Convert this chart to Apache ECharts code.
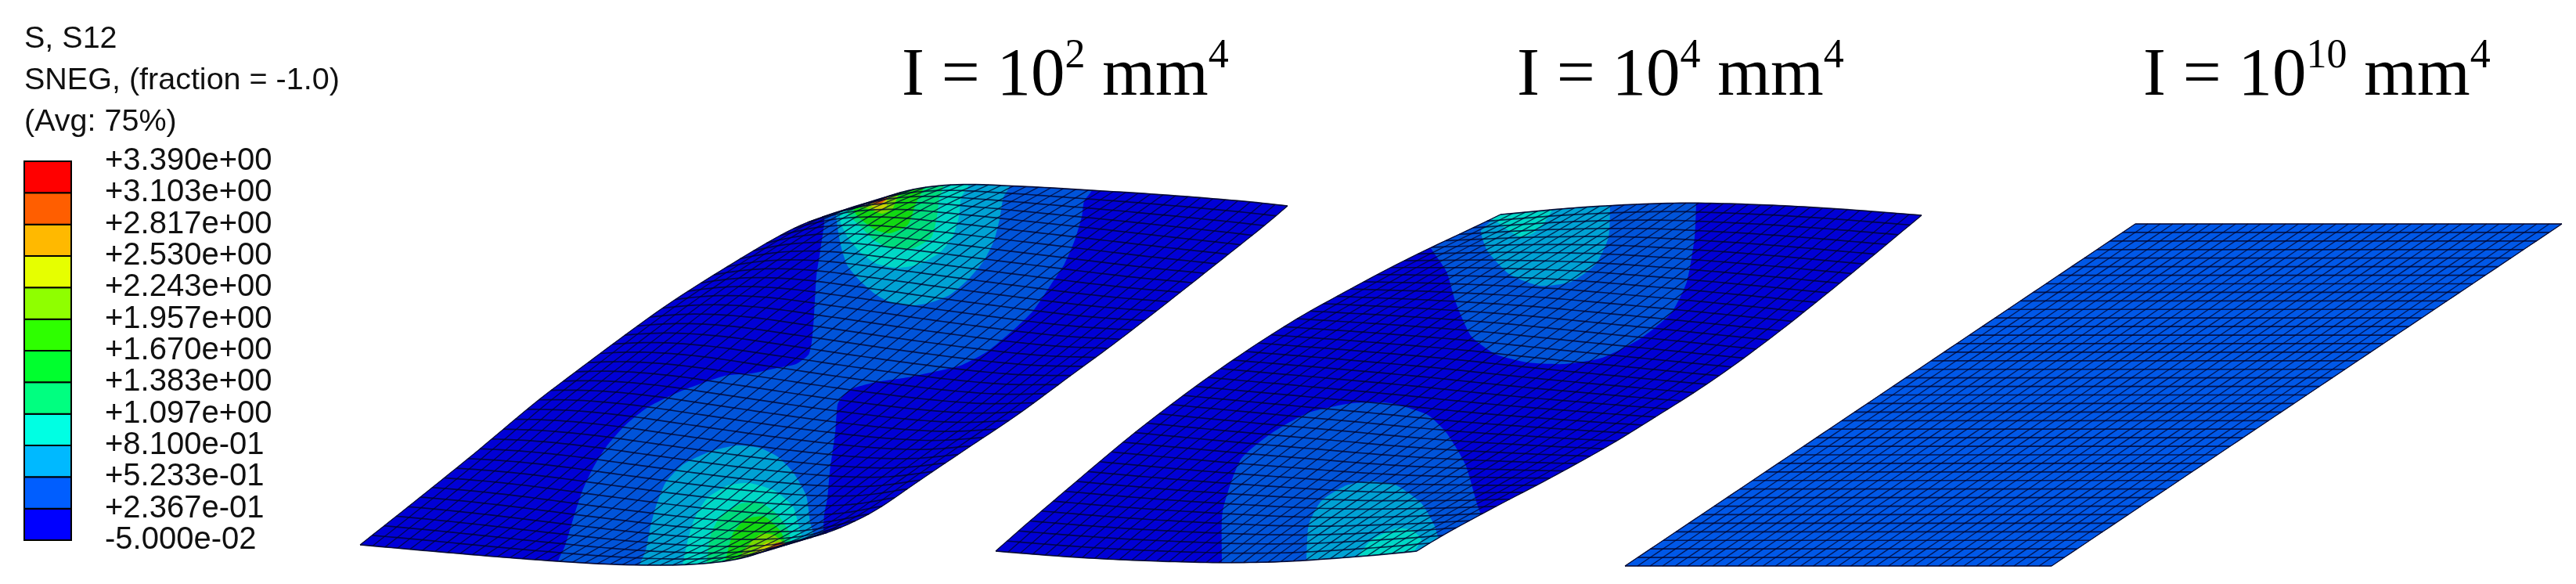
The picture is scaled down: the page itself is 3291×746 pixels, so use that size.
<!DOCTYPE html>
<html><head><meta charset="utf-8">
<style>html,body{margin:0;padding:0;background:#fff}#c{width:3291px;height:746px}</style>
<script src="https://cdn.jsdelivr.net/npm/echarts@6/dist/echarts.min.js"></script>
</head><body><div id="c"></div>
<script>
// Legend
const legendTicks = ['-5.000e-02','+2.367e-01','+5.233e-01','+8.100e-01','+1.097e+00','+1.383e+00','+1.670e+00','+1.957e+00','+2.243e+00','+2.530e+00','+2.817e+00','+3.103e+00','+3.390e+00'];
const legendColors = ['#0000ff','#005eff','#00b9ff','#00ffe3','#00ff80','#00ff2e','#2eff00','#8fff00','#e6ff00','#ffb900','#ff5e00','#ff0000'];
const legendHeader = 'S, S12\nSNEG, (fraction = -1.0)\n(Avg: 75%)';
const panelTitles = ['{b|I = 10}{s|2}{b| mm}{s|4}','{b|I = 10}{s|4}{b| mm}{s|4}','{b|I = 10}{s|10}{b| mm}{s|4}'];
// Shaded colours of the bands on the lit shells
const bandColors = ['#0000d6','#0054da','#00a2d4','#00d8c6','#00dc7c','#12d812','#78d800','#c8d200','#dc5a00','#0058e8'];

// Shell outlines
const p1Bottom = [[460,696],[562,705],[644,712],[726,718],[780,721],[823,722],[870,722],[913,719],[947,714],[967,708],[987,700],[1000,696]];
const p1Right = [[1000,696],[1040,686],[1063,679],[1090,667],[1120,652],[1147,633],[1180,610],[1213,588],[1250,563],[1290,537],[1330,508],[1370,478],[1421,441],[1465,407],[1525,360],[1569,325],[1617,287],[1645,263]];
const p1Left = [[460,696],[522,647],[603,582],[685,513],[742,470],[797,429],[851,390],[904,356],[958,323],[980,310],[1003,297],[1023,287],[1043,279],[1067,272],[1087,267],[1107,262]];
const p1Top = [[1107,262],[1123,255],[1140,248],[1160,243],[1187,238],[1213,236],[1243,235],[1280,237],[1327,239],[1393,243],[1460,247],[1529,252],[1600,258],[1645,263]];

const p2Bottom = [[1272,704],[1346,710],[1409,714],[1481,717],[1561,719],[1633,718],[1696,714],[1760,709],[1810,704]];
const p2Right = [[1810,704],[1844,683],[1896,655],[1928,638],[1967,618],[2015,592],[2063,565],[2111,535],[2167,500],[2215,467],[2270,426],[2318,388],[2366,349],[2414,309],[2455,275]];
const p2Left = [[1272,704],[1314,667],[1354,633],[1401,593],[1449,553],[1505,510],[1553,475],[1609,437],[1665,402],[1720,372],[1768,346],[1824,318],[1880,292],[1917,274]];
const p2Top = [[1917,274],[1960,270],[2015,265],[2087,261],[2151,259],[2207,260],[2286,263],[2366,268],[2455,275]];

const p3Bottom = [[2076,723],[2621,723]];
const p3Right = [[2621,723],[3273,286]];
const p3Left = [[2076,723],[2728,286]];
const p3Top = [[2728,286],[3273,286]];

// Contour bands
const p1Band2 = [[1395,225],[1395,243],[1385,257],[1382,277],[1373,307],[1360,337],[1343,363],[1320,397],[1293,423],[1260,450],[1227,467],[1193,475],[1160,482],[1120,488],[1087,497],[1075,508],[1070,517],[1067,553],[1060,603],[1057,637],[1053,657],[1052,678],[1052,735],[713,735],[713,717],[722,697],[734,657],[744,627],[758,597],[775,570],[799,543],[828,520],[869,500],[926,480],[960,477],[993,470],[1017,465],[1033,453],[1037,437],[1040,403],[1043,353],[1048,320],[1053,285],[1056,225]];
const p1TopBand3 = [[1290,225],[1290,238],[1282,252],[1277,280],[1270,307],[1257,333],[1237,357],[1213,377],[1187,387],[1167,390],[1140,387],[1120,377],[1100,360],[1083,340],[1075,317],[1070,290],[1070,255]];
const p1TopBand4 = [[1237,225],[1237,238],[1228,252],[1225,277],[1217,303],[1200,323],[1173,338],[1147,342],[1120,337],[1100,323],[1083,303],[1073,280],[1080,255]];
const p1TopBand5 = [[1205,225],[1205,239],[1200,253],[1197,277],[1190,303],[1167,317],[1137,317],[1117,307],[1100,290],[1083,272],[1090,250]];
const p1TopBand6 = [[1182,225],[1180,240],[1170,260],[1160,287],[1137,298],[1117,293],[1093,273],[1090,255]];
const p1TopBand7 = [[1152,235],[1147,250],[1140,267],[1127,273],[1113,268],[1100,263],[1100,250]];
const p1TopBand8 = [[1136,240],[1133,256],[1133,263],[1123,270],[1113,263],[1108,258],[1110,245]];
const p1TopBand9 = [[1135,245],[1132,255],[1123,261],[1113,258],[1113,245]];
const p1BotBand3 = [[1043,735],[1040,685],[1035,667],[1030,633],[1013,603],[993,583],[970,572],[940,569],[907,577],[873,593],[850,617],[837,650],[830,677],[825,703],[817,722],[817,735]];
const p1BotBand4 = [[1025,735],[1025,690],[1020,670],[1013,647],[990,627],[957,617],[930,620],[903,637],[887,663],[878,693],[872,722],[872,735]];
const p1BotBand5 = [[1010,735],[1010,692],[1007,677],[993,657],[973,643],[947,643],[920,660],[908,683],[903,720],[903,735]];
const p1BotBand6 = [[1003,735],[1003,694],[997,678],[977,660],[953,663],[937,680],[930,703],[927,718],[927,735]];
const p1BotBand7 = [[1003,735],[1000,693],[987,683],[970,683],[953,700],[945,713],[945,735]];
const p1BotBand8 = [[1000,735],[993,695],[980,693],[967,702],[962,710],[962,735]];
const p1BotBand9 = [[1006,720],[1003,694],[993,693],[983,700],[977,707],[977,720]];

const p2TopBand2 = [[2167,240],[2167,259],[2165,303],[2155,360],[2135,400],[2095,433],[2047,457],[1999,465],[1952,463],[1912,453],[1880,430],[1860,387],[1848,347],[1828,317],[1820,300],[1900,240]];
const p2TopBand3 = [[2057,240],[2057,263],[2055,303],[2039,337],[2007,360],[1967,365],[1928,350],[1900,320],[1892,295],[1904,282],[1890,265],[1900,240]];
const p2TopBand4 = [[1985,255],[1983,268],[1971,287],[1960,297],[1944,303],[1928,295],[1912,283],[1900,275],[1915,255]];
const p2BotBand2 = [[1561,730],[1561,719],[1562,653],[1585,587],[1625,553],[1672,527],[1728,515],[1776,515],[1824,530],[1848,553],[1872,593],[1888,647],[1894,663],[1900,700],[1810,730]];
const p2BotBand3 = [[1669,730],[1669,717],[1672,670],[1688,640],[1720,620],[1752,615],[1784,620],[1816,643],[1832,670],[1838,687],[1850,700],[1810,730]];
const p2BotBand4 = [[1736,725],[1736,710],[1752,690],[1784,675],[1804,677],[1816,690],[1808,703],[1815,725]];

const meshRows = 40;
const meshCols = 34;

// Panels: outline base band, and contour list painted in order
const panels = [
  {edges:[p1Bottom,p1Right,p1Top,p1Left], base:0, bands:[[1,p1Band2],[2,p1TopBand3],[3,p1TopBand4],[4,p1TopBand5],[5,p1TopBand6],[6,p1TopBand7],[7,p1TopBand8],[8,p1TopBand9],[2,p1BotBand3],[3,p1BotBand4],[4,p1BotBand5],[5,p1BotBand6],[6,p1BotBand7],[7,p1BotBand8],[8,p1BotBand9]]},
  {edges:[p2Bottom,p2Right,p2Top,p2Left], base:0, bands:[[1,p2TopBand2],[2,p2TopBand3],[3,p2TopBand4],[1,p2BotBand2],[2,p2BotBand3],[3,p2BotBand4]]},
  {edges:[p3Bottom,p3Right,p3Top,p3Left], base:9, bands:[]}
];

function sampler(line){
  const d=[0];
  for(let i=1;i<line.length;i++) d.push(d[i-1]+Math.hypot(line[i][0]-line[i-1][0],line[i][1]-line[i-1][1]));
  const L=d[d.length-1];
  return t=>{
    const s=t*L; let i=1;
    while(i<line.length-1&&d[i]<s) i++;
    const f=(s-d[i-1])/(d[i]-d[i-1]);
    return [line[i-1][0]+f*(line[i][0]-line[i-1][0]),line[i-1][1]+f*(line[i][1]-line[i-1][1])];
  };
}
// Irons out the small reading noise of a traced edge; the ends stay fixed.
function ironed(line){
  if(line.length<3) return line;
  const s=sampler(line), n=240, raw=[];
  for(let i=0;i<=n;i++) raw.push(s(i/n));
  let len=0; for(let i=1;i<line.length;i++) len+=Math.hypot(line[i][0]-line[i-1][0],line[i][1]-line[i-1][1]);
  const k=Math.round(26/(len/n));
  return raw.map((_,i)=>{
    const w=Math.min(k,i,n-i); let x=0,y=0;
    for(let j=i-w;j<=i+w;j++){x+=raw[j][0];y+=raw[j][1];}
    return [x/(2*w+1),y/(2*w+1)];
  });
}
panels.forEach(p=>{p.edges=p.edges.map(ironed);});
function meshLines(p){
  const [bo,ri,to,le]=p.edges, B=sampler(bo),R=sampler(ri),T=sampler(to),L=sampler(le);
  const c00=bo[0],c10=bo[bo.length-1],c01=to[0],c11=to[to.length-1];
  const S=(u,v)=>[0,1].map(k=>(1-v)*B(u)[k]+v*T(u)[k]+(1-u)*L(v)[k]+u*R(v)[k]-((1-u)*(1-v)*c00[k]+u*(1-v)*c10[k]+(1-u)*v*c01[k]+u*v*c11[k]));
  const out=[];
  for(let i=0;i<=meshRows;i++){const a=[];for(let j=0;j<=meshCols*2;j++)a.push(S(j/(meshCols*2),i/meshRows));out.push({pts:a,w:1.7});}
  for(let j=0;j<=meshCols;j++){const a=[];for(let i=0;i<=meshRows*2;i++)a.push(S(j/meshCols,i/(meshRows*2)));out.push({pts:a,w:1.3});}
  return out;
}
const outlineOf=p=>{const [bo,ri,to,le]=p.edges;return [...bo,...ri.slice(1),...to.slice().reverse().slice(1),...le.slice().reverse().slice(1,-1)];};

const fills=[], lines=[];
panels.forEach(p=>{
  const o=outlineOf(p);
  fills.push({pts:o,band:p.base,clip:null});
  p.bands.forEach(b=>fills.push({pts:b[1],band:b[0],clip:o,smooth:true}));
  meshLines(p).forEach(l=>lines.push(l));
  lines.push({pts:o.concat([o[0]]),w:1});
});

const chart=echarts.init(document.getElementById('c'),null,{renderer:'canvas'});
const toPx=(api,pts)=>pts.map(q=>api.coord(q));
chart.setOption({
  animation:false,
  backgroundColor:'#fff',
  title:[
    {text:legendHeader,left:31,top:24,padding:0,textStyle:{fontFamily:'Liberation Sans',fontWeight:'normal',fontSize:39.5,lineHeight:53,color:'#111'}},
    ...panelTitles.map((t,i)=>({text:t,left:[1152,1938,2738][i],top:46,padding:0,textStyle:{fontWeight:'normal',rich:{
      b:{fontFamily:'Liberation Serif',fontWeight:'normal',fontSize:87,lineHeight:96,verticalAlign:'bottom',color:'#000'},
      s:{fontFamily:'Liberation Serif',fontWeight:'normal',fontSize:52,lineHeight:60,verticalAlign:'top',color:'#000'}}}}))
  ],
  grid:[
    {left:0,top:0,right:0,bottom:0,containLabel:false},
    {left:31,top:206,width:60,height:484,containLabel:false}
  ],
  xAxis:[
    {gridIndex:0,type:'value',min:0,max:3291,show:false},
    {gridIndex:1,type:'value',min:0,max:1,show:false}
  ],
  yAxis:[
    {gridIndex:0,type:'value',min:0,max:746,inverse:true,show:false},
    {gridIndex:1,type:'value',min:0,max:12,interval:1,position:'right',
     axisLine:{show:true,lineStyle:{color:'#000',width:2}},
     axisTick:{show:true,length:19,lineStyle:{color:'#000',width:2}},
     splitLine:{show:false},
     axisLabel:{show:true,margin:43,fontFamily:'Liberation Sans',fontSize:40,color:'#111',showMinLabel:true,showMaxLabel:true,formatter:v=>legendTicks[v]}}
  ],
  series:[
    {type:'custom',name:'bands',xAxisIndex:0,yAxisIndex:0,coordinateSystem:'cartesian2d',silent:true,clip:false,
     data:fills.map((f,i)=>[i]),
     renderItem:(params,api)=>{
       const f=fills[params.dataIndex];
       const el={type:'polygon',shape:{points:toPx(api,f.pts),smooth:f.smooth?0.2:0},style:{fill:bandColors[f.band]}};
       if(f.clip) el.clipPath={type:'polygon',shape:{points:toPx(api,f.clip)}};
       return el;
     }},
    {type:'custom',name:'mesh',xAxisIndex:0,yAxisIndex:0,coordinateSystem:'cartesian2d',silent:true,clip:false,
     data:lines.map((l,i)=>[i]),
     renderItem:(params,api)=>{const l=lines[params.dataIndex];return {type:'polyline',shape:{points:toPx(api,l.pts)},style:{fill:null,stroke:'rgba(0,5,45,0.8)',lineWidth:l.w}};}},
    {type:'custom',name:'legend',xAxisIndex:1,yAxisIndex:1,coordinateSystem:'cartesian2d',silent:true,clip:false,
     data:legendColors.map((c,i)=>[i]),
     renderItem:(params,api)=>{
       const i=params.dataIndex,a=api.coord([0,i]),b=api.coord([1,i+1]);
       return {type:'rect',shape:{x:a[0],y:b[1],width:b[0]-a[0],height:a[1]-b[1]},style:{fill:legendColors[i],stroke:'#000',lineWidth:2}};
     }}
  ]
});
</script></body></html>
